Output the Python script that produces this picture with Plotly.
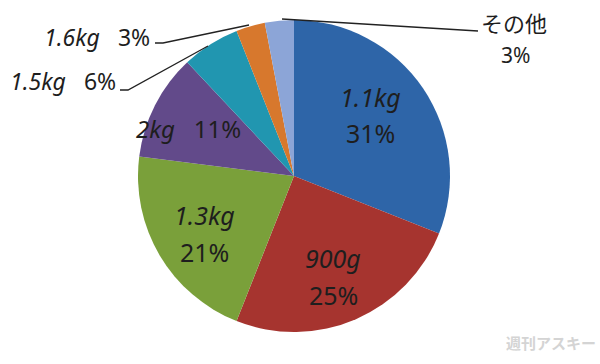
import plotly.graph_objects as go

labels = ["1.1kg", "900g", "1.3kg", "2kg", "1.5kg", "1.6kg", "その他"]
values = [31, 25, 21, 11, 6, 3, 3]
colors = ["#2e65a8", "#a6342f", "#7aa03a", "#624a8a", "#2196b0", "#d7782d", "#8ca5d7"]

W, H = 600, 364


def px(x, y):
    return x / W, 1 - y / H


fig = go.Figure(go.Pie(
    labels=labels, values=values, sort=False, direction="clockwise", rotation=0,
    marker=dict(colors=colors, line=dict(width=0)),
    textinfo="none", hoverinfo="label+percent", showlegend=False,
    domain=dict(x=[138 / W, 450 / W], y=[1 - 332 / H, 1 - 20 / H]),
))

FONT = "Noto Sans, Noto Sans CJK JP, sans-serif"
TC = "#1e1e1e"
NB = "\u00a0"
annos = []


def add(text, x, y, size=25, color=TC, xanchor="center"):
    ax, ay = px(x, y)
    annos.append(dict(text=text, x=ax, y=ay, xref="paper", yref="paper", showarrow=False,
                      xanchor=xanchor, yanchor="middle",
                      font=dict(family=FONT, size=size, color=color)))


def lab(i):
    return f"<i>{labels[i]}</i>"


def pct(i):
    return f"{values[i]}%"


# inside labels: two lines
two_line = {0: ((370, 97), (370, 133)), 1: ((333, 258), (333, 295)), 2: ((204, 215), (204, 252))}
for i, (p1, p2) in two_line.items():
    add(lab(i), *p1)
    add(pct(i), *p2)

# single-line labels
add(lab(3) + NB * 3 + pct(3), 188, 128, size=24)
add(lab(4) + NB * 3 + pct(4), 63, 81, size=23)
add(lab(5) + NB * 3 + pct(5), 97, 37, size=23)
add(labels[6], 514, 23, size=22)
add(pct(6), 515, 55, size=21)

# watermark
add("<b>週刊アスキー</b>", 551, 343, size=15, color="#d4d4d4")

shapes = []


def line(pts):
    path = "M " + " L ".join(f"{x / W},{1 - y / H}" for x, y in pts)
    shapes.append(dict(type="path", path=path, xref="paper", yref="paper",
                       line=dict(color="#222222", width=1.3)))


line([(282, 19), (478, 31)])
line([(155, 43), (163, 43), (249, 25)])
line([(120, 90), (128, 90), (208, 46)])

fig.update_layout(width=W, height=H, margin=dict(l=0, r=0, t=0, b=0),
                  paper_bgcolor="white", plot_bgcolor="white",
                  annotations=annos, shapes=shapes)

fig.write_html("out.html")
